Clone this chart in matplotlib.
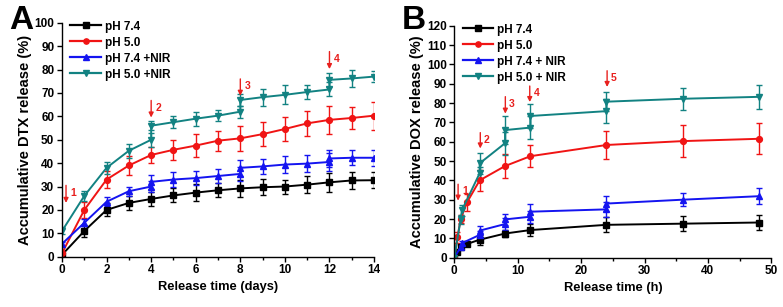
import matplotlib
matplotlib.use("Agg")
import matplotlib.pyplot as plt
from matplotlib.ticker import MultipleLocator
from matplotlib.lines import Line2D

plt.rcParams['font.family'] = ['Liberation Sans', 'DejaVu Sans']
plt.rcParams['font.weight'] = 'bold'

# ---------------- Panel A data (DTX, days) ----------------
a_labels = ["pH 7.4", "pH 5.0", "pH 7.4 +NIR", "pH 5.0 +NIR"]
a_x_black = [0, 1, 2, 3, 4, 5, 6, 7, 8, 9, 10, 11, 12, 13, 14]
a_y_black = [0.8, 11, 20, 23, 24.7, 26.2, 27.4, 28.4, 29.2, 29.7, 30, 30.8, 31.8, 32.6, 32.7]
a_e_black = [0.5, 2.5, 2.8, 3, 3, 3, 3.5, 3, 3.5, 3.5, 3, 3.5, 4, 3.7, 3.5]
a_x_red = [0, 1, 2, 3, 4, 5, 6, 7, 8, 9, 10, 11, 12, 13, 14]
a_y_red = [1.5, 20, 33, 39, 43.5, 45.7, 47.5, 49.6, 50.6, 52.4, 54.6, 57, 58.5, 59.3, 60.3]
a_e_red = [1, 3.5, 3.5, 4, 3.5, 4.3, 4.8, 4.2, 5.3, 5.2, 5, 5.5, 6, 4.7, 6]
a_x_blue = [0, 1, 2, 3, 4, 4, 5, 6, 7, 8, 8, 9, 10, 11, 12, 12, 13, 14]
a_y_blue = [5.5, 14.5, 23.5, 28, 30, 32, 33, 33.6, 34.5, 35.4, 38, 38.6, 39.4, 39.8, 40.5, 42, 42.3, 42.3]
a_e_blue = [1, 1.5, 2, 2, 2.5, 3, 3, 3, 3, 3, 3.3, 3.3, 3.5, 3.5, 4, 3.5, 3.3, 3.5]
a_x_teal = [0, 1, 2, 3, 4, 4, 5, 6, 7, 8, 8, 9, 10, 11, 12, 12, 13, 14]
a_y_teal = [11, 26, 38, 45.3, 50, 56, 57.5, 59, 60.3, 62, 67, 68.2, 69.2, 70.4, 71.5, 75.6, 76.2, 77]
a_e_teal = [1.5, 2, 2.5, 3, 3, 2, 2.5, 3, 2.5, 2.5, 2.5, 3.7, 4, 3, 3, 3, 3.5, 2.5]
a_arrow_x = [0.18, 4.0, 8.0, 12.0]
a_arrow_top = [30.5, 66.8, 76.0, 87.7]
a_arrow_tip = [23.0, 59.5, 68.8, 80.2]
a_arrow_text = ["1", "2", "3", "4"]

# ---------------- Panel B data (DOX, hours) ----------------
b_labels = ["pH 7.4", "pH 5.0", "pH 7.4 + NIR", "pH 5.0 + NIR"]
b_x_black = [0, 0.5, 1, 2, 4, 8, 12, 24, 36, 48]
b_y_black = [0, 2.8, 5.5, 7.1, 9.3, 12.5, 14.3, 17, 17.6, 18.2]
b_e_black = [0, 0.5, 1, 1, 2.5, 2, 3, 3.8, 4, 4]
b_x_red = [0, 0.5, 1, 2, 4, 8, 12, 24, 36, 48]
b_y_red = [0, 10.5, 20, 28.6, 40, 47.4, 52.5, 58.3, 60.3, 61.5]
b_e_red = [0, 3, 2, 4.5, 5.5, 6, 5.8, 7.2, 8.3, 8]
b_x_blue = [0, 1, 1.2, 4, 4, 8, 8, 12, 12, 24, 24, 36, 48]
b_y_blue = [0, 5.5, 7.5, 11.8, 14, 17.4, 19.8, 21.2, 23.8, 25, 28, 30, 31.8]
b_e_blue = [0, 1.2, 1.2, 2, 2.3, 3, 3, 3, 4, 4, 4, 3.5, 4]
b_x_teal = [0, 1, 1.2, 4, 4, 8, 8, 12, 12, 24, 24, 36, 48]
b_y_teal = [0, 19.8, 24.5, 43.7, 48.8, 59.2, 66, 67.3, 73.3, 75.8, 80.7, 82.2, 83.2]
b_e_teal = [0, 2.5, 3, 3, 5.5, 6, 7.3, 6, 6, 6.3, 5, 5.8, 6.2]
b_arrow_x = [0.6, 4.1, 8.05, 11.9, 24.1]
b_arrow_top = [38, 64.7, 83.3, 88.8, 96.7]
b_arrow_tip = [29.5, 56.5, 74.5, 80.5, 88.3]
b_arrow_text = ["1", "2", "3", "4", "5"]

colors = ["#000000", "#f01414", "#1414f0", "#128282"]
markers = ["s", "o", "^", "v"]

fig = plt.figure(figsize=(7.83, 3.07), dpi=100)
axA = fig.add_axes([0.0792, 0.1638, 0.3985, 0.762])
axB = fig.add_axes([0.5802, 0.1606, 0.4049, 0.7557])


def draw(ax, xs, ys, es):
    for x, y, e, c, m in zip(xs, ys, es, colors, markers):
        ax.errorbar(x, y, yerr=e, color=c, ecolor=c, elinewidth=1.0, capsize=2.5,
                    capthick=1.0, marker=m, markersize=4.2, lw=1.4)


def legend(ax, labels):
    handles = [Line2D([], [], color=c, marker=m, markersize=3.8, lw=1.6)
               for c, m in zip(colors, markers)]
    ax.legend(handles, labels, loc='upper left', bbox_to_anchor=(0.0, 1.045),
              frameon=False, prop={'weight': 'bold', 'size': 8.5}, handlelength=2.6,
              handletextpad=0.3, labelspacing=0.34, borderaxespad=0.3)


def style(ax):
    for s in ["top", "right"]:
        ax.spines[s].set_visible(False)
    for s in ["left", "bottom"]:
        ax.spines[s].set_linewidth(1.0)
    ax.tick_params(axis='both', which='major', direction='out', length=3.5, width=1.0,
                   labelsize=8.5, pad=2)
    ax.tick_params(axis='x', which='minor', direction='out', length=2, width=1.0)
    ax.tick_params(axis='y', which='minor', length=0)
    for lab in ax.get_xticklabels() + ax.get_yticklabels():
        lab.set_fontweight('bold')


def arrows(ax, xs, tops, tips, texts, dx):
    for x, t, p, s in zip(xs, tops, tips, texts):
        ax.annotate("", xy=(x, p), xytext=(x, t),
                    arrowprops=dict(arrowstyle="-|>", color="#e8201e", lw=1.0,
                                    mutation_scale=7, shrinkA=0, shrinkB=0))
        ax.text(x + dx, (t + p) / 2 + 0.5, s, color="#e8201e", fontsize=7.5,
                fontweight='bold', ha='left', va='center')


draw(axA, [a_x_black, a_x_red, a_x_blue, a_x_teal],
     [a_y_black, a_y_red, a_y_blue, a_y_teal],
     [a_e_black, a_e_red, a_e_blue, a_e_teal])
axA.set_xlim(0, 14)
axA.set_ylim(0, 100)
axA.xaxis.set_major_locator(MultipleLocator(2))
axA.xaxis.set_minor_locator(MultipleLocator(1))
axA.yaxis.set_major_locator(MultipleLocator(10))
style(axA)
arrows(axA, a_arrow_x, a_arrow_top, a_arrow_tip, a_arrow_text, 0.2)
axA.set_xlabel("Release time (days)", fontsize=9.3, fontweight='bold', labelpad=3)
axA.set_ylabel("Accumulative DTX release (%)", fontsize=10.5, fontweight='bold', labelpad=2)
legend(axA, a_labels)

draw(axB, [b_x_black, b_x_red, b_x_blue, b_x_teal],
     [b_y_black, b_y_red, b_y_blue, b_y_teal],
     [b_e_black, b_e_red, b_e_blue, b_e_teal])
axB.set_xlim(0, 50)
axB.set_ylim(0, 120)
axB.xaxis.set_major_locator(MultipleLocator(10))
axB.xaxis.set_minor_locator(MultipleLocator(5))
axB.yaxis.set_major_locator(MultipleLocator(10))
style(axB)
arrows(axB, b_arrow_x, b_arrow_top, b_arrow_tip, b_arrow_text, 0.6)
axB.set_xlabel("Release time (h)", fontsize=9.3, fontweight='bold', labelpad=3)
axB.set_ylabel("Accumulative DOX release (%)", fontsize=10.5, fontweight='bold', labelpad=2)
legend(axB, b_labels)

fig.text(0.012, 0.985, "A", fontsize=24, fontweight='bold', va='top', ha='left')
fig.text(0.513, 0.985, "B", fontsize=24, fontweight='bold', va='top', ha='left')

fig.savefig("out.png", dpi=100)
